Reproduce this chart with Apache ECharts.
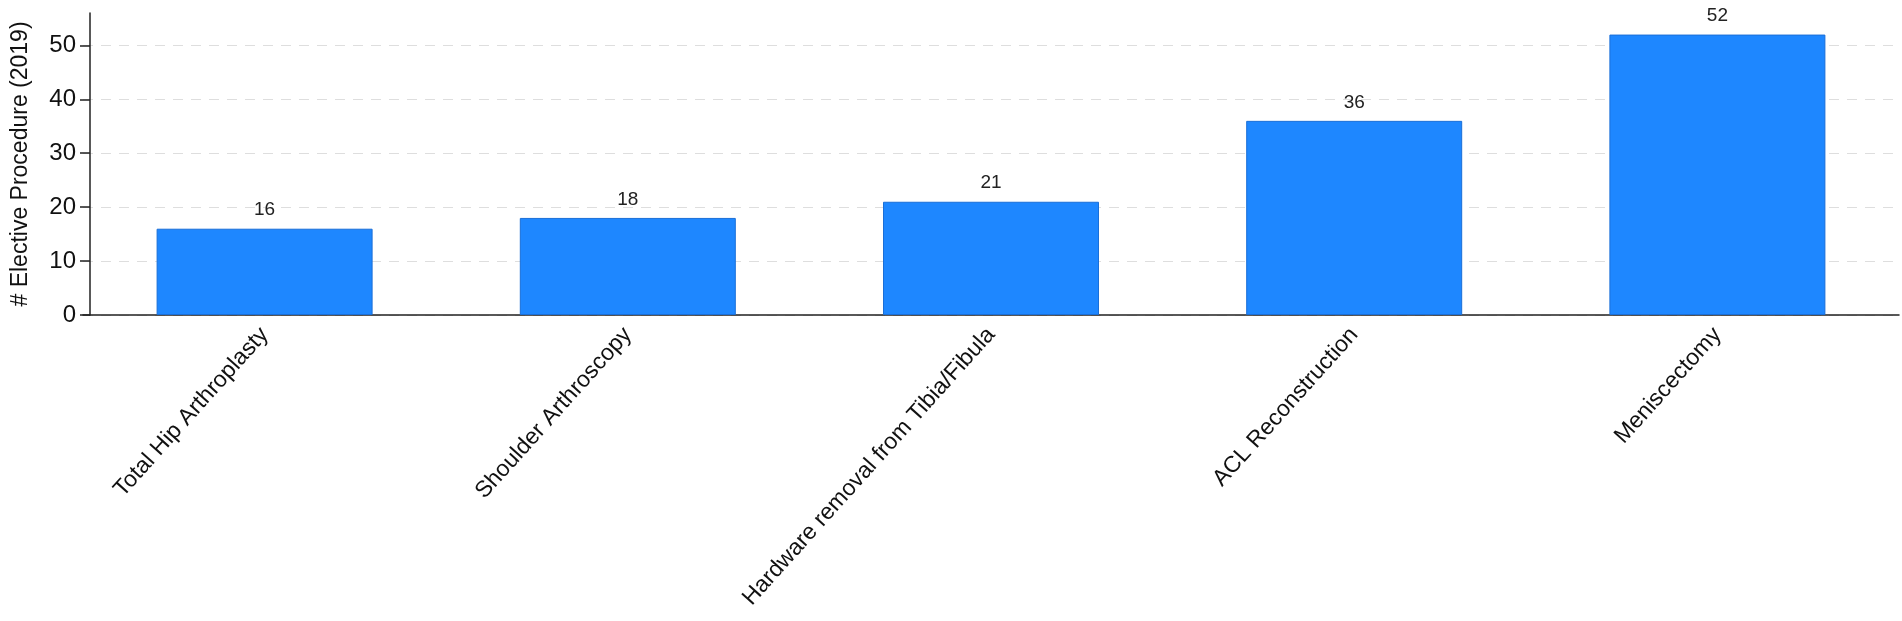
<!DOCTYPE html>
<html>
<head>
<meta charset="utf-8">
<script src="https://cdn.jsdelivr.net/npm/echarts@6/dist/echarts.min.js"></script>
<style>
html,body{margin:0;padding:0;background:#fff;}
#chartDiv{width:1902px;height:621px;}
</style>
</head>
<body>
<div id="chartDiv"></div>
<script>
var categories = ['Total Hip Arthroplasty', 'Shoulder Arthroscopy', 'Hardware removal from Tibia/Fibula', 'ACL Reconstruction', 'Meniscectomy'];
var procedureCounts = [16, 18, 21, 36, 52];
var yTicks = [0, 10, 20, 30, 40, 50];

var chart = echarts.init(document.getElementById('chartDiv'));

var option = {
    animation: false,
    textStyle: {fontFamily: 'Liberation Sans, Arial, sans-serif'},
    grid: {left: 83, right: 3, top: 13, bottom: 306},
    xAxis: {
        type: 'category',
        data: categories,
        axisLine: {lineStyle: {color: '#222', width: 1.5}},
        axisTick: {show: false},
        axisLabel: {
            rotate: 48,
            interval: 0,
            margin: 16,
            fontSize: 23,
            color: '#111'
        }
    },
    yAxis: {
        type: 'value',
        min: 0,
        max: 56,
        offset: -7,
        name: '# Elective Procedure (2019)',
        nameLocation: 'middle',
        nameGap: 58,
        nameTextStyle: {fontSize: 23, color: '#111'},
        axisLine: {show: true, lineStyle: {color: '#222', width: 1.5}},
        axisTick: {show: true, length: 10, customValues: yTicks, lineStyle: {color: '#222', width: 1.5}},
        axisLabel: {fontSize: 24, color: '#111', margin: 14, customValues: yTicks},
        splitLine: {
            show: true,
            lineStyle: {color: '#dedede', type: [10, 8], width: 1}
        }
    },
    series: [
        {
            name: 'Elective procedures',
            type: 'bar',
            data: procedureCounts,
            barWidth: 216,
            itemStyle: {color: '#1e87ff', borderColor: '#1a6fd8', borderWidth: 1},
            label: {
                show: true,
                position: 'top',
                distance: 9,
                fontSize: 19,
                color: '#222'
            }
        }
    ]
};
chart.setOption(option);
</script>
</body>
</html>
